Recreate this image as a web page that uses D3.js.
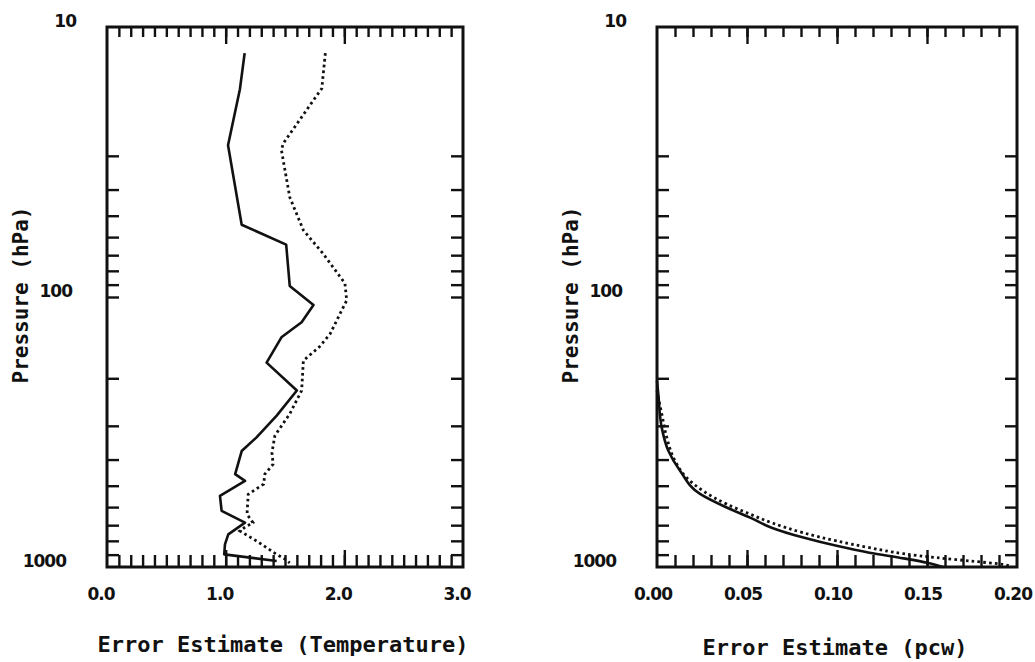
<!DOCTYPE html>
<html>
<head>
<meta charset="utf-8">
<script src="https://cdn.jsdelivr.net/npm/d3@7"></script>
<style>
  html, body { margin: 0; padding: 0; background: #fff; }
  svg { display: block; }
  .tick-label { font-family: "DejaVu Sans", sans-serif; font-weight: bold; font-size: 17px; letter-spacing: -1px; fill: #111; }
  .title { font-family: "DejaVu Sans Mono", monospace; font-weight: bold; fill: #111; }
</style>
</head>
<body>
<svg id="chart" width="1035" height="662"></svg>
<script>
// Pressure axis (hPa), shared by both panels
const pressureLabels = [10, 100, 1000];
const pressureMinorTicks = [30, 40, 50, 60, 70, 80, 90, 100, 200, 300, 400, 500, 600, 700, 800, 900];

// Temperature error axis
const tempTickLabels = [0.0, 1.0, 2.0, 3.0];
const tempMajorTicks = [1.0, 2.0];
const tempMinorTicks = d3.range(1, 30).map(i => i / 10);

// pcw error axis
const pcwTickLabels = [0.00, 0.05, 0.10, 0.15, 0.20];
const pcwMajorTicks = [0.05, 0.10, 0.15];
const pcwMinorTicks = d3.range(1, 20).map(i => i / 100);

// Temperature error profiles: solid and dotted curves
const tempSolidP   = [12.5, 17, 27.4, 54, 64, 91, 107, 124, 141, 175, 222, 275, 331, 372, 453, 480, 545, 620, 685, 757, 825, 898, 950];
const tempSolidErr = [1.16, 1.12, 1.02, 1.135, 1.51, 1.54, 1.74, 1.64, 1.47, 1.345, 1.60, 1.43, 1.26, 1.135, 1.08, 1.163, 0.952, 0.966, 1.163, 1.022, 0.994, 0.988, 1.43];

const tempDottedP   = [12.5, 16.9, 18.4, 27, 28.6, 42.7, 56.6, 69, 89, 103, 106, 137, 153, 172, 222, 271, 326, 377, 416, 453, 493, 538, 638, 685, 714, 735, 801, 898, 935, 966];
const tempDottedErr = [1.84, 1.81, 1.75, 1.485, 1.47, 1.54, 1.655, 1.82, 2.005, 2.02, 2.005, 1.88, 1.79, 1.655, 1.64, 1.54, 1.415, 1.39, 1.40, 1.33, 1.32, 1.19, 1.18, 1.23, 1.16, 1.12, 1.26, 1.43, 1.50, 1.54];

// pcw error profiles
const pcwSolidP   = [204, 228, 304, 371, 440, 536, 602, 656, 715, 778, 835, 885, 929, 964, 1000];
const pcwSolidErr = [0.0, 0.0007, 0.0026, 0.0063, 0.0128, 0.0239, 0.0387, 0.0517, 0.0637, 0.0813, 0.0998, 0.118, 0.137, 0.150, 0.159];

const pcwDottedP   = [222, 235, 270, 331, 404, 467, 523, 585, 637, 687, 747, 801, 848, 893, 923, 950, 978, 991];
const pcwDottedErr = [0.0, 0.0007, 0.0026, 0.0054, 0.010, 0.0165, 0.0257, 0.0387, 0.0517, 0.064, 0.0813, 0.0998, 0.118, 0.137, 0.155, 0.174, 0.192, 0.196];

const svg = d3.select("#chart");
const INK = "#111";

const plotTop = 27, plotBottom = 567;
const y = d3.scaleLog().domain([10, 1000]).range([plotTop, plotBottom]);

function panel(opts) {
  const x = d3.scaleLinear().domain(opts.domain).range([opts.left, opts.right]);
  const g = svg.append("g");

  const tickStyle = sel => {
    sel.select(".domain").remove();
    sel.selectAll(".tick line").attr("stroke", INK).attr("stroke-width", 2.4);
    sel.selectAll(".tick text").remove();
  };

  // top / bottom ticks (inward)
  g.append("g").attr("transform", `translate(0,${plotTop})`)
    .call(d3.axisTop(x).tickValues(opts.minor).tickSize(-10).tickFormat("")).call(tickStyle);
  g.append("g").attr("transform", `translate(0,${plotTop})`)
    .call(d3.axisTop(x).tickValues(opts.major).tickSize(-17).tickFormat("")).call(tickStyle);
  g.append("g").attr("transform", `translate(0,${plotBottom})`)
    .call(d3.axisBottom(x).tickValues(opts.minor).tickSize(-12).tickFormat("")).call(tickStyle);
  g.append("g").attr("transform", `translate(0,${plotBottom})`)
    .call(d3.axisBottom(x).tickValues(opts.major).tickSize(-17).tickFormat("")).call(tickStyle);

  // left / right ticks (inward)
  g.append("g").attr("transform", `translate(${opts.left},0)`)
    .call(d3.axisLeft(y).tickValues(pressureMinorTicks).tickSize(-12).tickFormat("")).call(tickStyle);
  g.append("g").attr("transform", `translate(${opts.right},0)`)
    .call(d3.axisRight(y).tickValues(pressureMinorTicks).tickSize(-12).tickFormat("")).call(tickStyle);

  // frame
  g.append("rect")
    .attr("x", opts.left).attr("y", plotTop)
    .attr("width", opts.right - opts.left).attr("height", plotBottom - plotTop)
    .attr("fill", "none").attr("stroke", INK).attr("stroke-width", 3);

  // x tick labels
  g.selectAll("text.xlab").data(opts.labels).join("text")
    .attr("class", "tick-label xlab")
    .attr("x", d => x(d) + opts.labelShift)
    .attr("y", 600)
    .attr("text-anchor", "middle")
    .text(d => d.toFixed(opts.digits));

  // pressure labels, baseline on the tick
  const inset = [31, 35, 41];
  g.selectAll("text.ylab").data(pressureLabels).join("text")
    .attr("class", "tick-label ylab")
    .attr("x", (d, i) => opts.left - inset[i])
    .attr("y", d => y(d))
    .attr("text-anchor", "end")
    .text(d => d);

  // axis titles
  g.append("text").attr("class", "title")
    .attr("font-size", 21)
    .attr("text-anchor", "middle")
    .attr("transform", `translate(${opts.left - 79},295) rotate(-90)`)
    .text("Pressure (hPa)");
  g.append("text").attr("class", "title")
    .attr("font-size", 22)
    .attr("text-anchor", "middle")
    .attr("x", opts.titleX).attr("y", opts.titleY)
    .text(opts.title);

  // profiles
  const line = d3.line().x(d => x(d[1])).y(d => y(d[0])).curve(opts.curve);
  g.append("path")
    .datum(d3.zip(opts.solidP, opts.solidE))
    .attr("d", line).attr("fill", "none")
    .attr("stroke", INK).attr("stroke-width", 2.6).attr("stroke-linejoin", "round");
  g.append("path")
    .datum(d3.zip(opts.dotP, opts.dotE))
    .attr("d", line).attr("fill", "none")
    .attr("stroke", INK).attr("stroke-width", 2.8).attr("stroke-dasharray", "2.6,3.2");
}

panel({
  left: 107, right: 463, domain: [0, 3],
  minor: tempMinorTicks, major: tempMajorTicks,
  labels: tempTickLabels, digits: 1, labelShift: -6,
  title: "Error Estimate (Temperature)", titleX: 283, titleY: 652,
  solidP: tempSolidP, solidE: tempSolidErr,
  dotP: tempDottedP, dotE: tempDottedErr,
  curve: d3.curveLinear
});

panel({
  left: 657, right: 1017, domain: [0, 0.2],
  minor: pcwMinorTicks, major: pcwMajorTicks,
  labels: pcwTickLabels, digits: 2, labelShift: -4,
  title: "Error Estimate (pcw)", titleX: 835, titleY: 655,
  solidP: pcwSolidP, solidE: pcwSolidErr,
  dotP: pcwDottedP, dotE: pcwDottedErr,
  curve: d3.curveMonotoneY
});
</script>
</body>
</html>
